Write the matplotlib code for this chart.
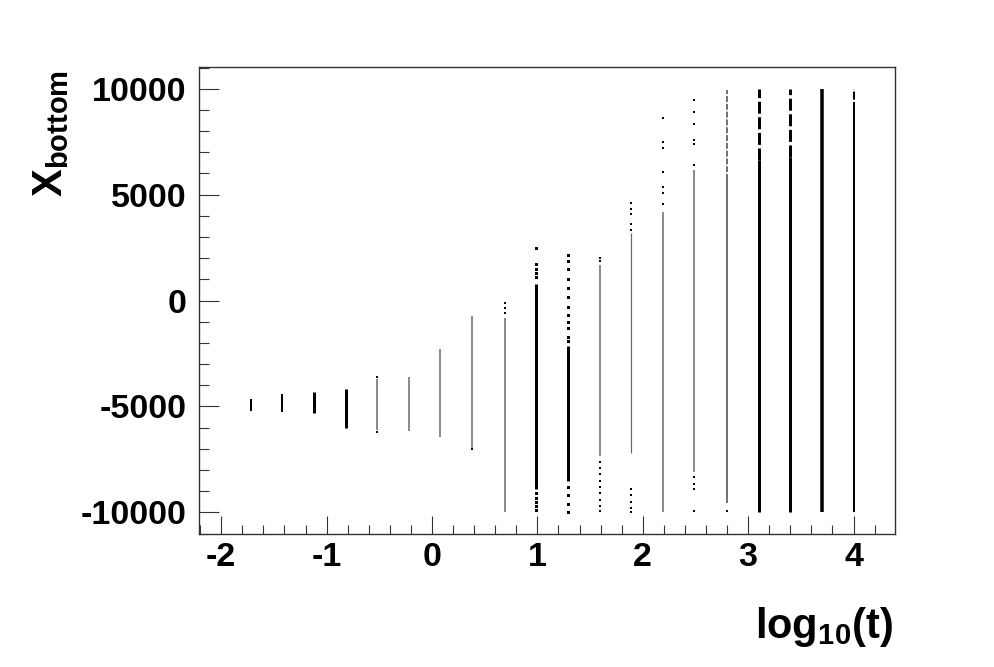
import matplotlib
matplotlib.use('Agg')
import matplotlib.pyplot as plt
from matplotlib.ticker import MultipleLocator

# --- values (log10 of time vs X at the bottom) ---
log10_t = [-1.72, -1.42, -1.12, -0.82, -0.52, -0.22, 0.08, 0.38, 0.69, 0.99,
           1.29, 1.59, 1.89, 2.19, 2.49, 2.80, 3.10, 3.40, 3.70, 4.00]

# dense part of each column
x_low = [-5210, -5260, -5310, -6020, -6100, -6160, -6450, -6960, -10000, -8900,
         -8500, -7350, -7200, -10000, -8100, -9550, -10000, -10000, -10000, -10000]
x_high = [-4650, -4420, -4310, -4170, -3700, -3590, -2280, -710, -800, 800,
          -2130, 1700, 3170, 4180, 6150, 5670, 6620, 6760, 10000, 8980]

# patchy (broken) part above the dense part, None when absent
patchy_low = [None, None, None, None, None, None, None, None, None, None,
              None, None, None, None, None, 5670, 6620, 6760, None, 8980]
patchy_high = [None, None, None, None, None, None, None, None, None, None,
               None, None, None, None, None, 9930, 10000, 10000, None, 10000]

# isolated hits
sparse_hits = [
    [], [], [], [],
    [-3590, -6210],
    [], [],
    [-7020],
    [-130, -350, -600],
    [2460, 1750, 1500, 1280, 1100, -9100, -9300, -9500, -9700, -9900],
    [2130, 1850, 1500, 1000, 600, 150, -300, -700, -1000, -1300, -1700, -1900,
     -8800, -9200, -9600, -10000],
    [1990, 1850, -7600, -7900, -8200, -8500, -8800, -9100, -9400, -9700, -9950],
    [4600, 4300, 4100, 3600, 3350, -8900, -9200, -9500, -9800, -10000],
    [8640, 7490, 7190, 6070, 5360, 5060, 4580],
    [9490, 8900, 8350, 7560, 7400, 6380, -8350, -8660, -8900, -9930],
    [-9930],
    [], [], [], [],
]

# --- styles ---
px = 0.72  # one pixel in points at dpi 100
col_width = [2, 2, 3, 3, 1.5, 1.5, 1.5, 1.5, 1.5, 3,
             3, 1.5, 1.2, 1.5, 1.5, 1.5, 3, 3, 3.5, 2]
col_color = ['k' if w >= 2 else '#666666' for w in col_width]
col_color[15] = '#444444'

plt.rcParams['font.family'] = ['Liberation Sans', 'DejaVu Sans']
plt.rcParams['font.weight'] = 'bold'
plt.rcParams['mathtext.fontset'] = 'custom'
plt.rcParams['mathtext.rm'] = 'Liberation Sans:bold'
plt.rcParams['mathtext.bf'] = 'Liberation Sans:bold'
plt.rcParams['mathtext.it'] = 'Liberation Sans:bold'
plt.rcParams['axes.unicode_minus'] = False

fig = plt.figure(figsize=(9.94, 6.67), dpi=100)
ax = fig.add_axes([0.2, 0.2, 0.7, 0.7])

for i, xv in enumerate(log10_t):
    lw = col_width[i] * px
    ax.vlines(xv, x_low[i], x_high[i], color=col_color[i], lw=lw)
    if patchy_low[i] is not None:
        ax.vlines(xv, patchy_low[i], patchy_high[i], color=col_color[i], lw=lw,
                  linestyles=(0, (4, 1.2)))
    if sparse_hits[i]:
        ax.plot([xv] * len(sparse_hits[i]), sparse_hits[i], 's', color='k',
                ms=max(lw, 1.5), mew=0)

ax.set_xlim(-2.213, 4.39)
ax.set_ylim(-11000, 11040)

ax.xaxis.set_major_locator(MultipleLocator(1))
ax.xaxis.set_minor_locator(MultipleLocator(0.2))
ax.yaxis.set_major_locator(MultipleLocator(5000))
ax.yaxis.set_minor_locator(MultipleLocator(1000))

ax.tick_params(axis='both', which='both', direction='in', width=0.8,
               color='#333333', labelsize=24.5)
ax.tick_params(axis='x', which='major', length=13, pad=6)
ax.tick_params(axis='x', which='minor', length=6.5)
ax.tick_params(axis='y', which='major', length=14.4, pad=9)
ax.tick_params(axis='y', which='minor', length=7.2)
for lab in ax.get_xticklabels() + ax.get_yticklabels():
    lab.set_fontweight('bold')

for sp in ax.spines.values():
    sp.set_linewidth(1.0)
    sp.set_color('#333333')

fig.text(0.898, 0.0435, r'$\mathbf{log_{10}(t)}$', fontsize=30,
         ha='right', va='baseline')
fig.text(0.0624, 0.895, r'$\mathbf{X_{bottom}}$', fontsize=30, rotation=90,
         rotation_mode='anchor', ha='right', va='baseline')

fig.savefig('out.png', dpi=100)
